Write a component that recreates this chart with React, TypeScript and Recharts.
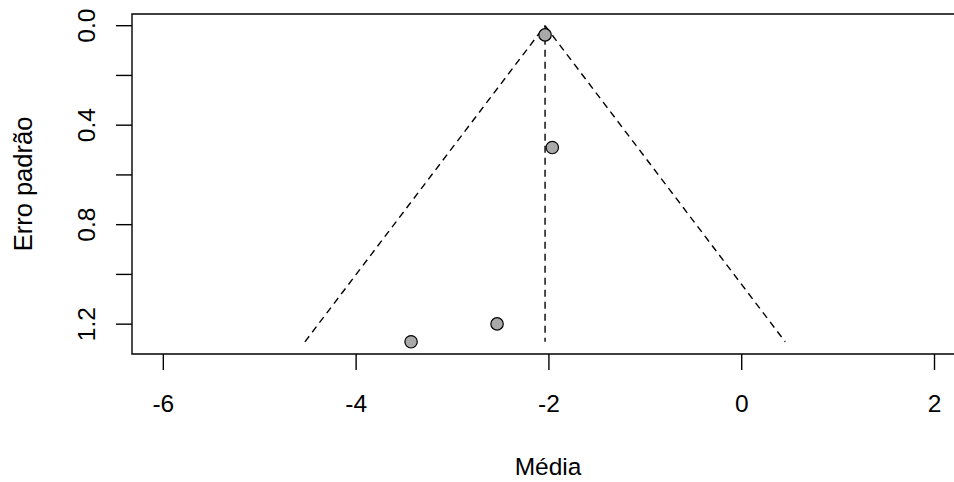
import {
  ScatterChart, Scatter, XAxis, YAxis, ReferenceLine, ReferenceArea, Label,
} from "recharts";

// study estimates (mean difference) and their standard errors
const studyMeans = [-2.04, -1.965, -2.538, -3.43];
const studyErrors = [0.037, 0.49, 1.199, 1.271];

// pooled estimate drawn as the funnel centre
const pooledMean = -2.04;
const zCrit = 1.96;

const xTicks = [-6, -4, -2, 0, 2];
const yTicks = [0, 0.2, 0.4, 0.6, 0.8, 1.0, 1.2];
const yLabelled = [0, 0.4, 0.8, 1.2];

const xDomain: [number, number] = [-6.325, 2.306];
const yDomain: [number, number] = [-0.047, 1.32];

const FONT = '"Liberation Sans", Arial, Helvetica, sans-serif';
const DASH = "7 5";

const points = studyMeans.map((m, i) => ({ x: m, y: studyErrors[i] }));
const seMax = Math.max(...studyErrors);

function XTick({ x, y, payload }: any) {
  return (
    <text x={x} y={y + 40} textAnchor="middle" fontSize={24.5} fontFamily={FONT} fill="#000">
      {payload.value}
    </text>
  );
}

function YTick({ x, y, payload }: any) {
  const v = payload.value;
  if (!yLabelled.some((t) => Math.abs(t - v) < 1e-6)) return null;
  const bx = x - 19;
  return (
    <text
      x={bx}
      y={y}
      transform={`rotate(-90, ${bx}, ${y})`}
      textAnchor="middle"
      fontSize={24.5}
      fontFamily={FONT}
      fill="#000"
    >
      {v.toFixed(1)}
    </text>
  );
}

export default function App() {
  return (
    <div style={{ position: "absolute", left: 0, top: 0, width: 954, height: 482, overflow: "hidden", background: "#fff" }}>
      <ScatterChart width={980} height={482} margin={{ top: 14, right: 16, left: 0, bottom: 0 }}>
        <XAxis
          type="number"
          dataKey="x"
          domain={xDomain}
          ticks={xTicks}
          allowDataOverflow
          axisLine={false}
          tickLine={{ stroke: "#000", strokeWidth: 1.4 }}
          tickSize={16}
          height={128}
          tick={<XTick />}
          interval={0}
        >
          <Label
            content={({ viewBox }: any) => (
              <text
                x={viewBox.x + viewBox.width / 2}
                y={viewBox.y + 121}
                textAnchor="middle"
                fontSize={24.5}
                fontFamily={FONT}
                fill="#000"
              >
                Média
              </text>
            )}
          />
        </XAxis>
        <YAxis
          type="number"
          dataKey="y"
          domain={yDomain}
          ticks={yTicks}
          reversed
          allowDataOverflow
          axisLine={false}
          tickLine={{ stroke: "#000", strokeWidth: 1.4 }}
          tickSize={16}
          width={132}
          tick={<YTick />}
          interval={0}
        >
          <Label
            content={({ viewBox }: any) => {
              const cy = viewBox.y + viewBox.height / 2;
              return (
                <text
                  x={32}
                  y={cy}
                  transform={`rotate(-90, 32, ${cy})`}
                  textAnchor="middle"
                  fontSize={25.5}
                  fontFamily={FONT}
                  fill="#000"
                >
                  Erro padrão
                </text>
              );
            }}
          />
        </YAxis>
        <ReferenceArea
          x1={xDomain[0]}
          x2={xDomain[1]}
          y1={yDomain[0]}
          y2={yDomain[1]}
          fill="none"
          fillOpacity={0}
          stroke="#000"
          strokeWidth={1.4}
          ifOverflow="visible"
        />
        <ReferenceLine
          segment={[{ x: pooledMean - zCrit * seMax, y: seMax }, { x: pooledMean, y: 0 }]}
          stroke="#000"
          strokeWidth={1.4}
          strokeDasharray={DASH}
          ifOverflow="visible"
        />
        <ReferenceLine
          segment={[{ x: pooledMean, y: 0 }, { x: pooledMean + zCrit * seMax, y: seMax }]}
          stroke="#000"
          strokeWidth={1.4}
          strokeDasharray={DASH}
          ifOverflow="visible"
        />
        <ReferenceLine
          segment={[{ x: pooledMean, y: 0 }, { x: pooledMean, y: seMax }]}
          stroke="#000"
          strokeWidth={1.4}
          strokeDasharray={DASH}
          ifOverflow="visible"
        />
        <Scatter
          data={points}
          fill="#a9a9a9"
          stroke="#000"
          strokeWidth={1.2}
          isAnimationActive={false}
          shape={(p: any) => <circle cx={p.cx} cy={p.cy} r={6.2} fill="#a9a9a9" stroke="#000" strokeWidth={1.2} />}
        />
      </ScatterChart>
    </div>
  );
}
